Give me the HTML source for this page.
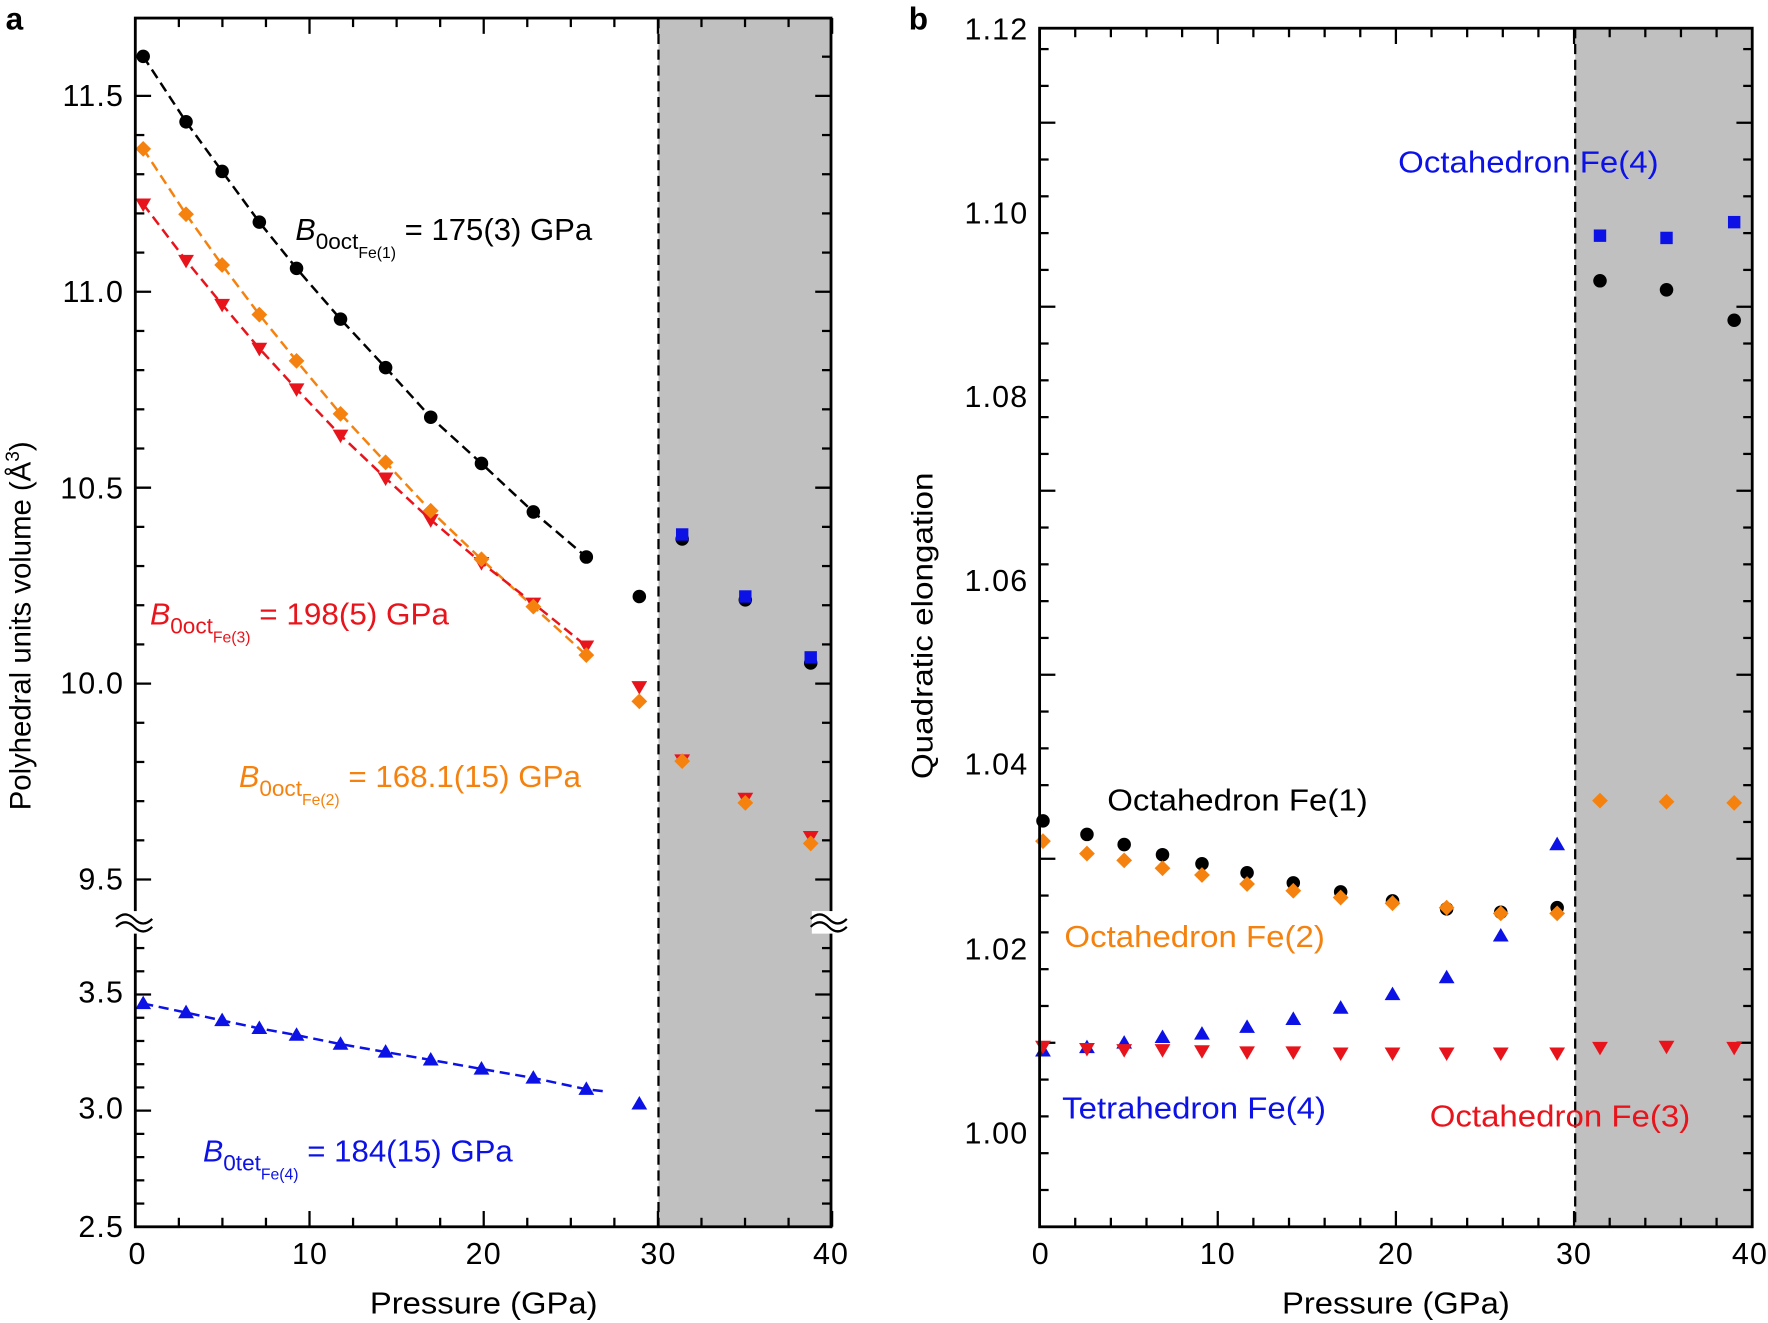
<!DOCTYPE html>
<html><head><meta charset="utf-8"><style>
html,body{margin:0;padding:0;background:#fff}
svg{display:block}
text{font-family:"Liberation Sans",Arial,sans-serif}
</style></head><body>
<svg id="s" width="1768" height="1323" viewBox="0 0 1568 1173.3" xmlns="http://www.w3.org/2000/svg">
<rect x="584" y="16" width="153" height="1072" fill="#c0c0c0"/>
<rect x="1397" y="25" width="157" height="1063" fill="#c0c0c0"/>
<g id="g"></g>
<rect x="120" y="16" width="617" height="1072" fill="none" stroke="#000" stroke-width="2.5"/>
<rect x="922" y="25" width="632" height="1063" fill="none" stroke="#000" stroke-width="2.5"/>
<line x1="584" y1="16" x2="584" y2="1088" stroke="#000" stroke-width="2" stroke-dasharray="9,5"/>
<line x1="1397" y1="25" x2="1397" y2="1088" stroke="#000" stroke-width="2" stroke-dasharray="9,5"/>
<rect x="105" y="808" width="30" height="20" fill="#fff"/>
<rect x="720" y="808" width="35" height="20" fill="#fff"/>
<path d="M103 815 q8 -8 16 0 t16 0 M103 822 q8 -8 16 0 t16 0" fill="none" stroke="#000" stroke-width="2"/>
<path d="M719 815 q8 -8 16 0 t16 0 M719 822 q8 -8 16 0 t16 0" fill="none" stroke="#000" stroke-width="2"/>
<g font-size="27" text-anchor="end" letter-spacing="1">
<text x="110" y="94">11.5</text><text x="110" y="268">11.0</text><text x="110" y="442">10.5</text><text x="110" y="615">10.0</text><text x="110" y="789">9.5</text>
<text x="110" y="889">3.5</text><text x="110" y="992">3.0</text><text x="110" y="1097">2.5</text>
<text x="912" y="35">1.12</text><text x="912" y="198">1.10</text><text x="912" y="361">1.08</text><text x="912" y="524">1.06</text><text x="912" y="687">1.04</text><text x="912" y="851">1.02</text><text x="912" y="1014">1.00</text>
</g>
<g font-size="27" text-anchor="middle" letter-spacing="1">
<text x="122" y="1121">0</text><text x="275" y="1121">10</text><text x="429" y="1121">20</text><text x="584" y="1121">30</text><text x="737" y="1121">40</text>
<text x="923" y="1121">0</text><text x="1080" y="1121">10</text><text x="1238" y="1121">20</text><text x="1396" y="1121">30</text><text x="1552" y="1121">40</text>
</g>
<g font-size="27">
<text x="328" y="1165" textLength="202" lengthAdjust="spacingAndGlyphs">Pressure (GPa)</text>
<text x="1137" y="1165" textLength="202" lengthAdjust="spacingAndGlyphs">Pressure (GPa)</text>
</g>
<text x="27" y="555" font-size="26" text-anchor="middle" transform="rotate(-90 27 555)">Polyhedral units volume (Å<tspan dy="-10" font-size="17">3</tspan><tspan dy="10">)</tspan></text>
<text x="827" y="555" font-size="26" text-anchor="middle" transform="rotate(-90 827 555)" textLength="272" lengthAdjust="spacingAndGlyphs">Quadratic elongation</text>
<text x="5" y="26" font-size="28" font-weight="bold">a</text>
<text x="806" y="26" font-size="28" font-weight="bold">b</text>
<g font-size="27">
<text x="262" y="213" fill="#000"><tspan font-style="italic">B</tspan><tspan dy="8" font-size="20">0oct</tspan><tspan dy="8" font-size="14">Fe(1)</tspan><tspan dy="-16" textLength="174" lengthAdjust="spacingAndGlyphs"> = 175(3) GPa</tspan></text>
<text x="133" y="554" fill="#e8141c"><tspan font-style="italic">B</tspan><tspan dy="8" font-size="20">0oct</tspan><tspan dy="8" font-size="14">Fe(3)</tspan><tspan dy="-16" textLength="176" lengthAdjust="spacingAndGlyphs"> = 198(5) GPa</tspan></text>
<text x="212" y="698" fill="#f5820f"><tspan font-style="italic">B</tspan><tspan dy="8" font-size="20">0oct</tspan><tspan dy="8" font-size="14">Fe(2)</tspan><tspan dy="-16" textLength="214" lengthAdjust="spacingAndGlyphs"> = 168.1(15) GPa</tspan></text>
<text x="180" y="1030" fill="#0c12e6"><tspan font-style="italic">B</tspan><tspan dy="8" font-size="20">0tet</tspan><tspan dy="8" font-size="14">Fe(4)</tspan><tspan dy="-16" textLength="190" lengthAdjust="spacingAndGlyphs"> = 184(15) GPa</tspan></text>
<text x="1240" y="153" fill="#0c12e6" textLength="231" lengthAdjust="spacingAndGlyphs">Octahedron Fe(4)</text>
<text x="982" y="719" fill="#000" textLength="231" lengthAdjust="spacingAndGlyphs">Octahedron Fe(1)</text>
<text x="944" y="840" fill="#f5820f" textLength="231" lengthAdjust="spacingAndGlyphs">Octahedron Fe(2)</text>
<text x="942" y="992" fill="#0c12e6" textLength="234" lengthAdjust="spacingAndGlyphs">Tetrahedron Fe(4)</text>
<text x="1268" y="999" fill="#e8141c" textLength="231" lengthAdjust="spacingAndGlyphs">Octahedron Fe(3)</text>
</g>
</svg>
<script>
var g=document.getElementById('g'),NS='http://www.w3.org/2000/svg';
function el(t,a){var e=document.createElementNS(NS,t);for(var k in a)e.setAttribute(k,a[k]);g.appendChild(e);return e;}
function ln(x1,y1,x2,y2){el('line',{x1:x1,y1:y1,x2:x2,y2:y2,stroke:'#000','stroke-width':2});}
for(var p=0;p<=40;p+=2.5){var x=120+p*15.45,L=(p%10==0)?14:8;ln(x,1088,x,1088-L);ln(x,16,x,16+L);}
for(var v=9.5;v<=11.65;v+=0.1){var y=780-(v-9.5)*347.5,L=(Math.abs(v*2-Math.round(v*2))<0.01)?14:8;ln(120,y,120+L,y);ln(737,y,737-L,y);}
for(var v=2.5;v<=3.71;v+=0.1){var y=1088-(v-2.5)*206,L=(Math.abs(v*2-Math.round(v*2))<0.01)?14:8;ln(120,y,120+L,y);ln(737,y,737-L,y);}
for(var p=0;p<=40;p+=2){var x=922+p*15.8,L=(p%10==0)?14:8;ln(x,1088,x,1088-L);ln(x,25,x,25+L);}
for(var i=0;i<=32;i++){var y=1088-i*32.64,L=(i%5==0&&i>0)?14:8;if(y<25)break;ln(922,y,922+L,y);ln(1554,y,1554-L,y);}
function mk(type,x,y,c){
 if(type=='c')el('circle',{cx:x,cy:y,r:6,fill:c});
 else if(type=='d')el('polygon',{points:[x,y-7,x+7,y,x,y+7,x-7,y].join(','),fill:c});
 else if(type=='u')el('polygon',{points:[x,y-7,x+7,y+5,x-7,y+5].join(','),fill:c});
 else if(type=='v')el('polygon',{points:[x,y+7,x+7,y-5,x-7,y-5].join(','),fill:c});
 else if(type=='s')el('rect',{x:x-5.5,y:y-5.5,width:11,height:11,fill:c});}
var K='#000',O='#f5820f',R='#e8141c',B='#0c12e6';
var xa=[127,165,197,230,263,302,342,382,427,473,520,567,605,661,719];
function series(xs,ys,n,type,c,ext){var pts=[];for(var i=0;i<n;i++)pts.push(xs[i]+','+ys[i]);if(ext)pts.push(ext);
 el('polyline',{points:pts.join(' '),fill:'none',stroke:c,'stroke-width':2.2,'stroke-dasharray':'9,5'});}
var k=[50,108,152,197,238,283,326,370,411,454,494,529,478,532,588];
var o=[132,190,235,279,320,367,410,453,496,538,581,622,675,712,748];
var r=[181,231,270,309,345,386,424,461,499,535,573,609,674,708,742];
var bt=[890,898,905,912,918,926,933,940,948,956,966,979];
series(xa,k,11,'c',K);series(xa,o,11,'d',O);series(xa,r,11,'v',R);series(xa,bt,11,'u',B,'537,968');
for(var i=0;i<15;i++){mk('v',xa[i],r[i],R);mk('d',xa[i],o[i],O);mk('c',xa[i],k[i],K);if(i<12)mk('u',xa[i],bt[i],B);}
mk('s',605,474,B);mk('s',661,529,B);mk('s',719,583,B);
var xb=[925,964,997,1031,1066,1106,1147,1189,1235,1283,1331,1381,1419,1478,1538];
var kb=[728,740,749,758,766,774,783,791,799,806,809,805,249,257,284];
var ob=[746,757,763,770,776,784,790,796,801,805,810,810,710,711,712];
var tb=[932,929,925,920,917,911,904,894,882,867,830,749];
var rb=[928,930,931,931,932,933,933,934,934,934,934,934,929,928,929];
for(var i=0;i<15;i++){mk('c',xb[i],kb[i],K);mk('d',xb[i],ob[i],O);if(i<12)mk('u',xb[i],tb[i],B);mk('v',xb[i],rb[i],R);}
mk('s',1419,209,B);mk('s',1478,211,B);mk('s',1538,197,B);
</script>
</body></html>
